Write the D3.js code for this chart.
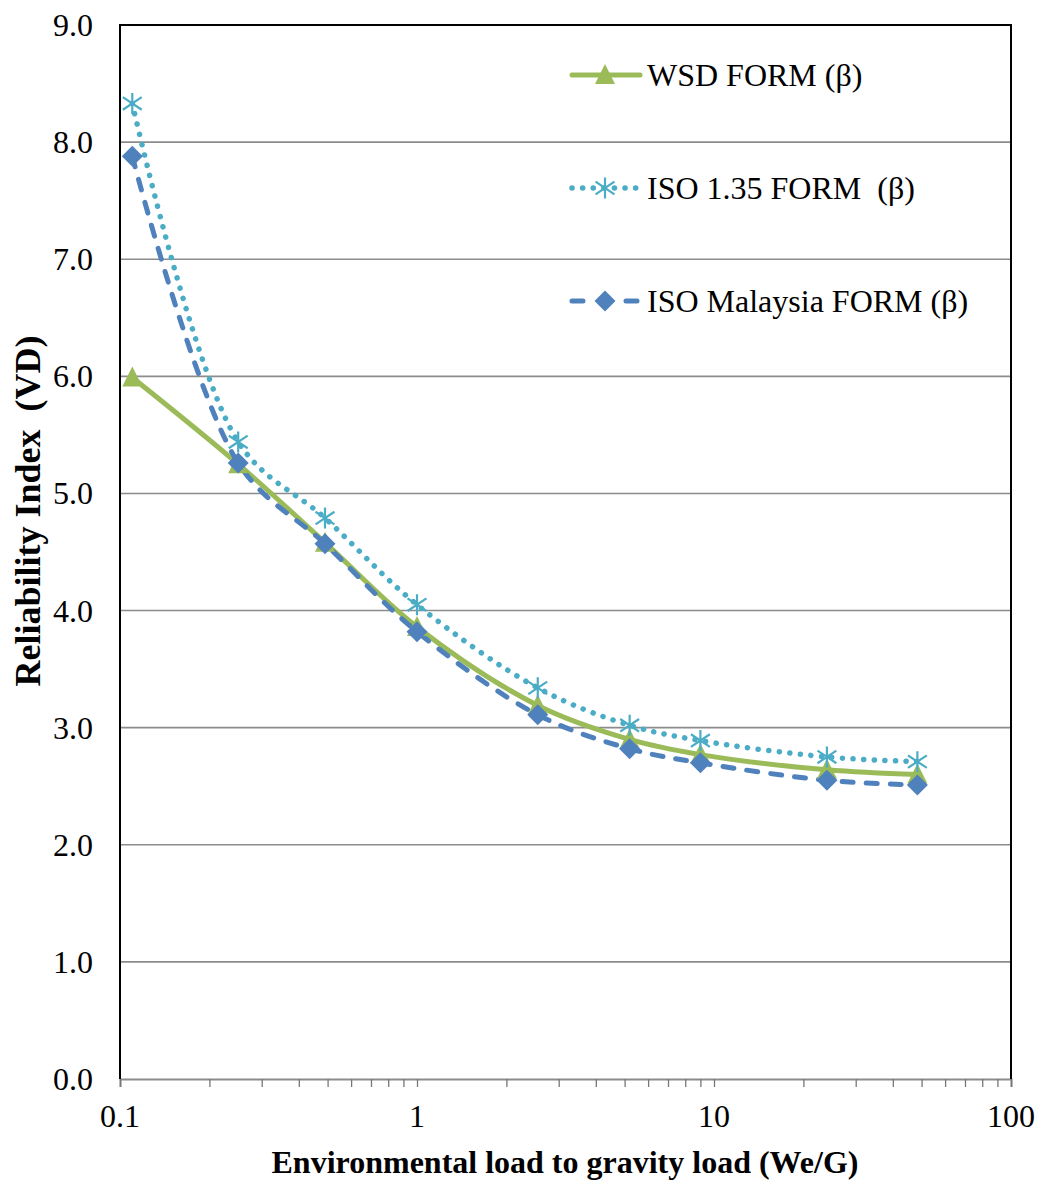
<!DOCTYPE html>
<html>
<head>
<meta charset="utf-8">
<script src="https://cdn.jsdelivr.net/npm/d3@7"></script>
<style>
  html, body { margin: 0; padding: 0; background: #fff; }
  svg { display: block; }
</style>
</head>
<body>
<svg id="chart" width="1040" height="1180"></svg>
<script>
// Load ratio We/G at each analysed case
const ratios = [0.11, 0.25, 0.49, 1.0, 2.55, 5.2, 9.0, 24, 48.4];

// Reliability index per design approach
const wsdForm = [5.99, 5.25, 4.58, 3.86, 3.19, 2.90, 2.77, 2.64, 2.60];
const iso135Form = [8.33, 5.44, 4.79, 4.05, 3.34, 3.02, 2.89, 2.75, 2.71];
const isoMalaysiaForm = [7.88, 5.26, 4.57, 3.82, 3.11, 2.82, 2.70, 2.55, 2.51];

const seriesNames = ["WSD FORM (\u03b2)", "ISO 1.35 FORM  (\u03b2)", "ISO Malaysia FORM (\u03b2)"];
const yTicks = [0, 1, 2, 3, 4, 5, 6, 7, 8, 9];
const xTicks = [0.1, 1, 10, 100];

const FONT = "Liberation Serif, Tinos, Times New Roman, serif";
const FS = 32;

const svg = d3.select("#chart").style("font-family", FONT);
const m = { left: 120, right: 1011, top: 25, bottom: 1079 };

const x = d3.scaleLog().domain([0.1, 100]).range([m.left, m.right]);
const y = d3.scaleLinear().domain([0, 9]).range([m.bottom, m.top]);

// horizontal gridlines
svg.append("g").selectAll("line").data(yTicks.slice(1)).join("line")
  .attr("x1", m.left).attr("x2", m.right)
  .attr("y1", d => y(d)).attr("y2", d => y(d))
  .attr("stroke", "#8c8c8c").attr("stroke-width", 1.6);

// x axis with minor log ticks
const minor = [];
for (let p = -1; p < 2; p++) for (let k = 1; k <= 10; k++) minor.push(k * Math.pow(10, p));
const xAxis = d3.axisBottom(x).tickValues(Array.from(new Set(minor.map(v => +v.toPrecision(3)))))
  .tickSize(8).tickFormat("");
const gx = svg.append("g").attr("transform", `translate(0,${m.bottom})`).call(xAxis);
gx.select(".domain").attr("stroke", "#8c8c8c").attr("stroke-width", 2);
gx.selectAll(".tick line").attr("stroke", "#777").attr("stroke-width", 1.3);

svg.append("g").selectAll("text").data(xTicks).join("text")
  .style("font-family", FONT)
  .attr("x", d => x(d)).attr("y", 1127)
  .attr("text-anchor", "middle").attr("font-size", FS)
  .text(d => d < 1 ? d.toFixed(1) : d3.format("d")(d));

svg.append("g").selectAll("text").data(yTicks).join("text")
  .style("font-family", FONT)
  .attr("x", 93).attr("y", d => y(d) + 11)
  .attr("text-anchor", "end").attr("font-size", FS)
  .text(d => d.toFixed(1));

// plot frame
svg.append("path")
  .attr("d", `M${m.left},${m.bottom}V${m.top}H${m.right}V${m.bottom}`)
  .attr("fill", "none").attr("stroke", "#000").attr("stroke-width", 2);

// series
const series = [
  { name: seriesNames[0], values: wsdForm, color: "#9bbb59", dash: null, width: 5, marker: "triangle" },
  { name: seriesNames[1], values: iso135Form, color: "#4bacc6", dash: "0.1,10.5", width: 5.5, marker: "star" },
  { name: seriesNames[2], values: isoMalaysiaForm, color: "#4f81bd", dash: "11,13", width: 5, marker: "diamond" }
];

const line = d3.line()
  .x((d, i) => x(ratios[i])).y(d => y(d))
  .curve(d3.curveCatmullRom.alpha(0.5));

function drawMarker(g, type, color) {
  if (type === "triangle") {
    g.append("path").attr("d", "M0,-11L10,9L-10,9Z").attr("fill", color);
  } else if (type === "diamond") {
    g.append("path").attr("d", "M0,-10.5L10.5,0L0,10.5L-10.5,0Z").attr("fill", color);
  } else {
    const r = 10.5;
    g.append("path")
      .attr("d", `M0,${-r}V${r}M${-r * 0.9},${-r * 0.6}L${r * 0.9},${r * 0.6}M${-r * 0.9},${r * 0.6}L${r * 0.9},${-r * 0.6}`)
      .attr("stroke", color).attr("stroke-width", 2.2).attr("fill", "none");
  }
}

const plot = svg.append("g");
series.forEach(s => {
  plot.append("path").datum(s.values)
    .attr("d", line).attr("fill", "none")
    .attr("stroke", s.color).attr("stroke-width", s.width)
    .attr("stroke-linecap", "round")
    .attr("stroke-dasharray", s.dash);
});
series.forEach(s => {
  s.values.forEach((v, i) => {
    const g = plot.append("g").attr("transform", `translate(${x(ratios[i])},${y(v)})`);
    drawMarker(g, s.marker, s.color);
  });
});

// legend
const legendRows = [75, 188, 301];
series.forEach((s, i) => {
  const g = svg.append("g").attr("transform", `translate(0,${legendRows[i]})`);
  g.append("line").attr("x1", 572).attr("x2", 640).attr("y1", 0).attr("y2", 0)
    .attr("stroke", s.color).attr("stroke-width", s.width)
    .attr("stroke-linecap", "round")
    .attr("stroke-dasharray", s.dash ? (i === 1 ? "0.1,10.5" : "11,43") : null);
  const mk = g.append("g").attr("transform", "translate(605,0)");
  drawMarker(mk, s.marker, s.color);
  g.append("text").style("font-family", FONT)
    .attr("x", 647).attr("y", 11).attr("font-size", FS)
    .style("white-space", "pre")
    .text(s.name);
});

// axis titles
svg.append("text").style("font-family", FONT)
  .attr("x", 565).attr("y", 1173)
  .attr("text-anchor", "middle").attr("font-size", FS).attr("font-weight", "bold")
  .text("Environmental load to gravity load (We/G)");

svg.append("text").style("font-family", FONT)
  .attr("transform", "translate(40,511) rotate(-90)")
  .attr("text-anchor", "middle").attr("font-size", 36).attr("font-weight", "bold")
  .style("white-space", "pre")
  .text("Reliability Index  (VD)");
</script>
</body>
</html>
